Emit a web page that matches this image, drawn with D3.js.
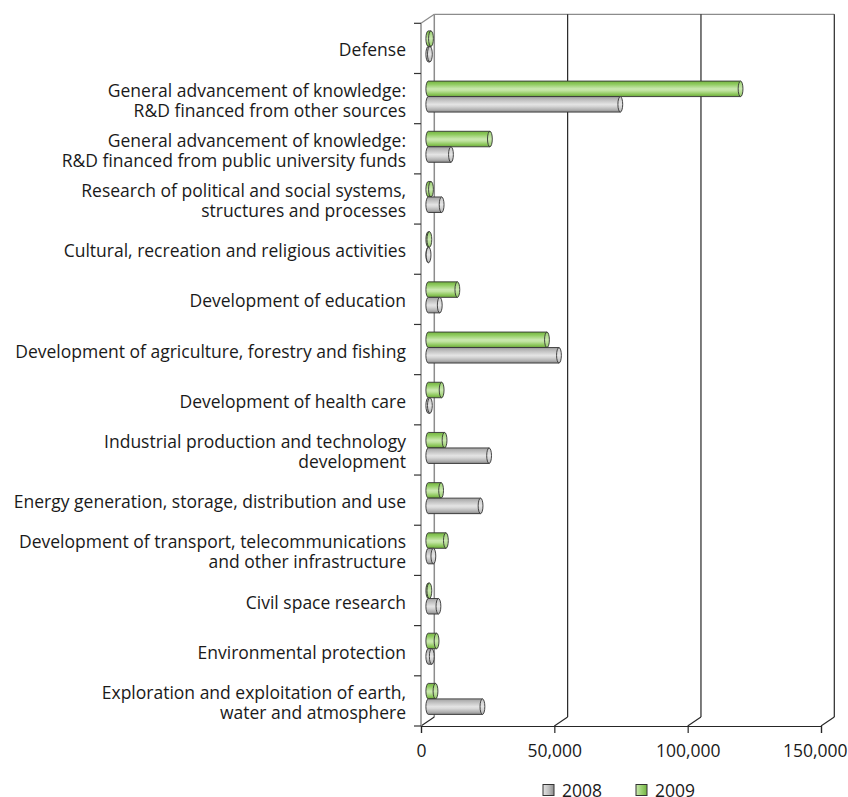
<!DOCTYPE html>
<html>
<head>
<meta charset="utf-8">
<script src="https://cdn.jsdelivr.net/npm/d3@7"></script>
<style>
  html, body { margin: 0; padding: 0; background: #fff; }
  svg text { font-family: "Open Sans", "Noto Sans", sans-serif; fill: #1a1a1a; }
</style>
</head>
<body>
<svg id="chart" width="848" height="797"></svg>
<script>
// Category labels (each entry is a list of lines)
const categories = [
  ["Defense"],
  ["General advancement of knowledge:", "R&D financed from other sources"],
  ["General advancement of knowledge:", "R&D financed from public university funds"],
  ["Research of political and social systems,", "structures and processes"],
  ["Cultural, recreation and religious activities"],
  ["Development of education"],
  ["Development of agriculture, forestry and fishing"],
  ["Development of health care"],
  ["Industrial production and technology", "development"],
  ["Energy generation, storage, distribution and use"],
  ["Development of transport, telecommunications", "and other infrastructure"],
  ["Civil space research"],
  ["Environmental protection"],
  ["Exploration and exploitation of earth,", "water and atmosphere"]
];

const series = ["2009", "2008"];
const values2008 = [600, 72000, 8500, 5000, 100, 4300, 49000, 600, 22800, 19600, 1900, 3800, 1300, 20300];
const values2009 = [1000, 117100, 23100, 1000, 400, 10900, 44500, 5000, 6100, 4800, 6600, 400, 3100, 2700];
const xTicks = [0, 50000, 100000, 150000];
const legendItems = ["2008", "2009"];

const FONT = 17.5;
const svg = d3.select("#chart");
const defs = svg.append("defs");

// Cylinder shading gradients
function vGrad(id, stops) {
  const g = defs.append("linearGradient").attr("id", id)
    .attr("x1", 0).attr("y1", 0).attr("x2", 0).attr("y2", 1);
  stops.forEach(([o, c]) => g.append("stop").attr("offset", o).attr("stop-color", c));
}
function hGrad(id, stops) {
  const g = defs.append("linearGradient").attr("id", id)
    .attr("x1", 0).attr("y1", 0).attr("x2", 1).attr("y2", 0);
  stops.forEach(([o, c]) => g.append("stop").attr("offset", o).attr("stop-color", c));
}
vGrad("g2009", [[0, "#74b441"], [0.2, "#8fcb5f"], [0.5, "#cbe8b0"], [0.62, "#c0e3a0"], [0.85, "#8bc659"], [1, "#6aa53a"]]);
vGrad("g2008", [[0, "#a2a2a2"], [0.25, "#c4c4c4"], [0.5, "#e4e4e4"], [0.62, "#d8d8d8"], [0.85, "#b0b0b0"], [1, "#8a8a8a"]]);
vGrad("c2009", [[0, "#9ad270"], [0.5, "#cbe9b0"], [1, "#92ca64"]]);
vGrad("c2008", [[0, "#c6c6c6"], [0.5, "#e6e6e6"], [1, "#b4b4b4"]]);
hGrad("l2009", [[0, "#cbe8b0"], [0.5, "#9bd072"], [1, "#74b441"]]);
hGrad("l2008", [[0, "#e4e4e4"], [0.5, "#c0c0c0"], [1, "#8e8e8e"]]);

const fills = { "2009": "url(#g2009)", "2008": "url(#g2008)" };
const caps = { "2009": "url(#c2009)", "2008": "url(#c2008)" };
const legendFills = { "2009": "url(#l2009)", "2008": "url(#l2008)" };
const valuesBy = { "2009": values2009, "2008": values2008 };

// Plot geometry
const x = d3.scaleLinear().domain([0, 150000]).range([421, 821]);
const y = d3.scaleBand().domain(d3.range(categories.length)).range([23.3, 726]);
const sub = d3.scaleBand().domain(series).range([-15.5, 15.5]);
const depth = { dx: 13.3, dy: -9 };
const barShift = { dx: 7.3, dy: -2 };
const yTop = y.range()[0], yBot = y.range()[1];

const wallColor = "#8c8c8c";
const gridColor = "#262626";

// Back wall: left edge and top edge
svg.append("line").attr("x1", x(0) + depth.dx).attr("x2", x(0) + depth.dx)
  .attr("y1", yTop + depth.dy).attr("y2", yBot + depth.dy)
  .attr("stroke", wallColor).attr("stroke-width", 1.5);
svg.append("line").attr("x1", x(0) + depth.dx).attr("x2", x(150000) + depth.dx)
  .attr("y1", yTop + depth.dy).attr("y2", yTop + depth.dy)
  .attr("stroke", wallColor).attr("stroke-width", 1.2);

// Vertical gridlines on the back wall
svg.append("g").selectAll("line").data(xTicks.slice(1)).join("line")
  .attr("x1", d => x(d) + depth.dx).attr("x2", d => x(d) + depth.dx)
  .attr("y1", yTop + depth.dy).attr("y2", yBot + depth.dy)
  .attr("stroke", gridColor).attr("stroke-width", 1.2);

// Floor diagonals from the front axis to the back wall
svg.append("g").selectAll("line").data(xTicks).join("line")
  .attr("x1", d => x(d)).attr("y1", yBot)
  .attr("x2", d => x(d) + depth.dx).attr("y2", yBot + depth.dy)
  .attr("stroke", gridColor).attr("stroke-width", 1.1);

// Top-left diagonal of the side wall
svg.append("line").attr("x1", x(0)).attr("y1", yTop)
  .attr("x2", x(0) + depth.dx).attr("y2", yTop + depth.dy)
  .attr("stroke", wallColor).attr("stroke-width", 1.2);

// Front category axis with boundary ticks
svg.append("line").attr("x1", x(0)).attr("x2", x(0)).attr("y1", yTop).attr("y2", yBot)
  .attr("stroke", wallColor).attr("stroke-width", 1.5);
const boundaries = d3.range(categories.length + 1).map(i => yTop + i * y.step());
svg.append("g").selectAll("line").data(boundaries).join("line")
  .attr("x1", x(0) - 7).attr("x2", x(0)).attr("y1", d => d).attr("y2", d => d)
  .attr("stroke", "#333").attr("stroke-width", 1.2);

// Front value axis
const xAxis = d3.axisBottom(x).tickValues(xTicks).tickSize(7).tickPadding(12)
  .tickFormat(d3.format(","));
const gx = svg.append("g").attr("transform", `translate(0,${yBot})`).call(xAxis);
gx.select(".domain").attr("stroke", gridColor).attr("stroke-width", 1.2);
gx.selectAll(".tick line").attr("stroke", gridColor).attr("stroke-width", 1.2);
gx.selectAll(".tick text").attr("font-size", FONT).attr("fill", "#1a1a1a")
  .style("font-family", "'Open Sans', sans-serif");
// keep the last tick label inside the page edge
gx.selectAll(".tick text").filter(d => d === 150000)
  .attr("text-anchor", "end").attr("x", 847 - x(150000));

// Category labels
const labels = svg.append("g");
categories.forEach((lines, i) => {
  const cy = y(i) + y.bandwidth() / 2 + 1;
  const t = labels.append("text").attr("text-anchor", "end").attr("font-size", FONT);
  lines.forEach((ln, k) => {
    t.append("tspan").attr("x", 406)
      .attr("y", cy + (k - (lines.length - 1) / 2) * 20)
      .attr("dominant-baseline", "central").text(ln);
  });
});

// Cylinders
const rx = 2.4;
const bars = svg.append("g");
categories.forEach((_, i) => {
  const cy = y(i) + y.bandwidth() / 2 + barShift.dy;
  series.forEach(s => {
    const v = valuesBy[s][i];
    const top = cy + sub(s), h = sub.bandwidth(), bot = top + h, ry = h / 2;
    const x0 = x(0) + barShift.dx, x1 = x(v) + barShift.dx;
    bars.append("path")
      .attr("d", `M${x0},${top}L${x1},${top}L${x1},${bot}L${x0},${bot}A${rx},${ry} 0 0 1 ${x0},${top}Z`)
      .attr("fill", fills[s]).attr("stroke", "#333").attr("stroke-width", 0.9);
    bars.append("ellipse").attr("cx", x1).attr("cy", top + ry).attr("rx", rx).attr("ry", ry)
      .attr("fill", caps[s]).attr("stroke", "#333").attr("stroke-width", 0.9);
  });
});

// Legend
const legend = svg.append("g");
const legendX = { "2008": 543, "2009": 636 };
legendItems.forEach(s => {
  legend.append("rect").attr("x", legendX[s]).attr("y", 784.5).attr("width", 11).attr("height", 11)
    .attr("fill", legendFills[s]).attr("stroke", "#333").attr("stroke-width", 1);
  legend.append("text").attr("x", legendX[s] + 19).attr("y", 789.5)
    .attr("dominant-baseline", "central").attr("font-size", FONT).text(s);
});
</script>
</body>
</html>
